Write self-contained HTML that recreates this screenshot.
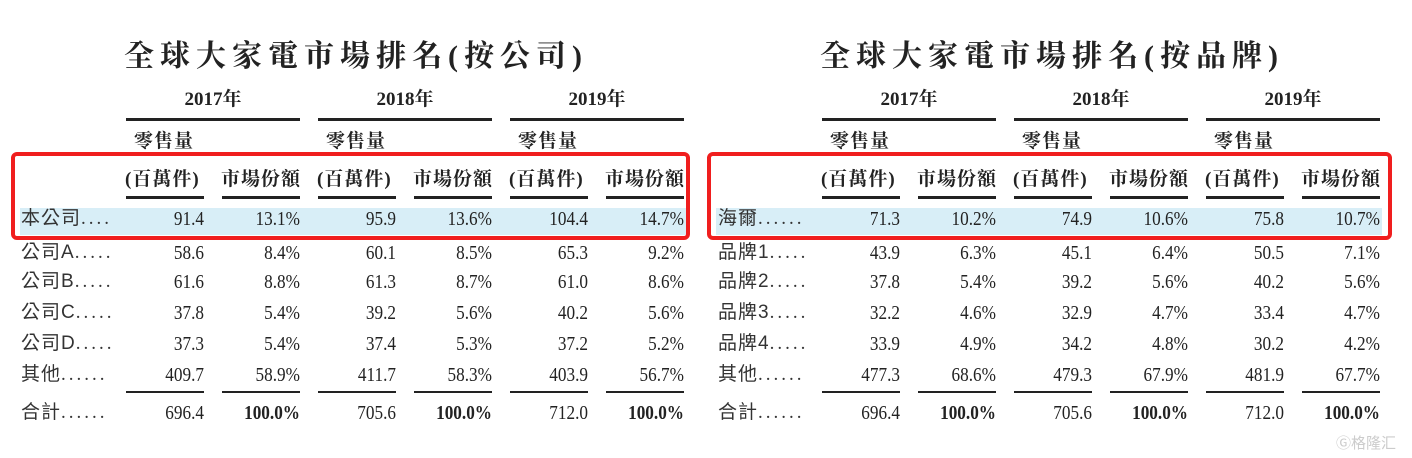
<!DOCTYPE html>
<html><head><meta charset="utf-8">
<style>
body{margin:0;width:1412px;height:458px;background:#fff;position:relative;overflow:hidden;color:#222;}
.a{position:absolute;white-space:nowrap;}
.t{font-family:"Liberation Serif","Noto Serif CJK TC","Noto Serif CJK SC",serif;font-weight:bold;font-size:30px;letter-spacing:6px;line-height:34px;}
.y{font-family:"Liberation Serif","Noto Serif CJK TC","Noto Serif CJK SC",serif;font-weight:bold;font-size:19px;width:174px;text-align:center;line-height:24px;}
.h{font-family:"Liberation Serif","Noto Serif CJK TC","Noto Serif CJK SC",serif;font-weight:bold;font-size:19px;letter-spacing:1px;line-height:24px;}
.ln{position:absolute;height:3px;background:#222;}
.ls{position:absolute;height:2px;background:#222;}
.n{font-family:"Liberation Serif",serif;font-size:20px;width:120px;text-align:right;line-height:24px;transform:scaleX(.86);transform-origin:right center;}
.b{font-weight:bold;}
.l{font-family:"Liberation Sans","Noto Sans CJK TC",sans-serif;font-size:19px;line-height:24px;color:#333;letter-spacing:1px;}
.l i{font-style:normal;font-family:"Liberation Serif",serif;letter-spacing:3px;}
.hl{position:absolute;background:#d8eef7;height:27px;}
.box{position:absolute;border:4px solid #f01e1e;border-radius:6px;}
</style></head><body>
<div class="hl" style="left:20px;top:208px;width:666px"></div>
<div class="hl" style="left:716px;top:208px;width:666px"></div>

<!-- LEFT -->
<div class="a t" style="left:124px;top:40px">全球大家電市場排名(按公司)</div>
<div class="a y" style="left:126px;top:88px">2017年</div>
<div class="a y" style="left:318px;top:88px">2018年</div>
<div class="a y" style="left:510px;top:88px">2019年</div>
<div class="ln" style="left:126px;top:118px;width:174px"></div>
<div class="ln" style="left:318px;top:118px;width:174px"></div>
<div class="ln" style="left:510px;top:118px;width:174px"></div>
<div class="a h" style="left:134px;top:130px">零售量</div>
<div class="a h" style="left:326px;top:130px">零售量</div>
<div class="a h" style="left:518px;top:130px">零售量</div>
<div class="a h" style="left:125px;top:168px">(百萬件)</div>
<div class="a h" style="left:221px;top:168px">市場份額</div>
<div class="a h" style="left:317px;top:168px">(百萬件)</div>
<div class="a h" style="left:413px;top:168px">市場份額</div>
<div class="a h" style="left:509px;top:168px">(百萬件)</div>
<div class="a h" style="left:605px;top:168px">市場份額</div>
<div class="ln" style="left:126px;top:196px;width:78px"></div>
<div class="ln" style="left:222px;top:196px;width:78px"></div>
<div class="ln" style="left:318px;top:196px;width:78px"></div>
<div class="ln" style="left:414px;top:196px;width:78px"></div>
<div class="ln" style="left:510px;top:196px;width:78px"></div>
<div class="ln" style="left:606px;top:196px;width:78px"></div>

<div class="a l" style="left:21px;top:207px">本公司<i>....</i></div>
<div class="a l" style="left:21px;top:241px">公司A<i>.....</i></div>
<div class="a l" style="left:21px;top:270px">公司B<i>.....</i></div>
<div class="a l" style="left:21px;top:301px">公司C<i>.....</i></div>
<div class="a l" style="left:21px;top:332px">公司D<i>.....</i></div>
<div class="a l" style="left:21px;top:363px">其他<i>......</i></div>
<div class="a l" style="left:21px;top:401px">合計<i>......</i></div>

<div class="a n" style="left:84px;top:207px">91.4</div><div class="a n" style="left:180px;top:207px">13.1%</div><div class="a n" style="left:276px;top:207px">95.9</div><div class="a n" style="left:372px;top:207px">13.6%</div><div class="a n" style="left:468px;top:207px">104.4</div><div class="a n" style="left:564px;top:207px">14.7%</div>
<div class="a n" style="left:84px;top:241px">58.6</div><div class="a n" style="left:180px;top:241px">8.4%</div><div class="a n" style="left:276px;top:241px">60.1</div><div class="a n" style="left:372px;top:241px">8.5%</div><div class="a n" style="left:468px;top:241px">65.3</div><div class="a n" style="left:564px;top:241px">9.2%</div>
<div class="a n" style="left:84px;top:270px">61.6</div><div class="a n" style="left:180px;top:270px">8.8%</div><div class="a n" style="left:276px;top:270px">61.3</div><div class="a n" style="left:372px;top:270px">8.7%</div><div class="a n" style="left:468px;top:270px">61.0</div><div class="a n" style="left:564px;top:270px">8.6%</div>
<div class="a n" style="left:84px;top:301px">37.8</div><div class="a n" style="left:180px;top:301px">5.4%</div><div class="a n" style="left:276px;top:301px">39.2</div><div class="a n" style="left:372px;top:301px">5.6%</div><div class="a n" style="left:468px;top:301px">40.2</div><div class="a n" style="left:564px;top:301px">5.6%</div>
<div class="a n" style="left:84px;top:332px">37.3</div><div class="a n" style="left:180px;top:332px">5.4%</div><div class="a n" style="left:276px;top:332px">37.4</div><div class="a n" style="left:372px;top:332px">5.3%</div><div class="a n" style="left:468px;top:332px">37.2</div><div class="a n" style="left:564px;top:332px">5.2%</div>
<div class="a n" style="left:84px;top:363px">409.7</div><div class="a n" style="left:180px;top:363px">58.9%</div><div class="a n" style="left:276px;top:363px">411.7</div><div class="a n" style="left:372px;top:363px">58.3%</div><div class="a n" style="left:468px;top:363px">403.9</div><div class="a n" style="left:564px;top:363px">56.7%</div>
<div class="ls" style="left:126px;top:391px;width:78px"></div><div class="ls" style="left:222px;top:391px;width:78px"></div><div class="ls" style="left:318px;top:391px;width:78px"></div><div class="ls" style="left:414px;top:391px;width:78px"></div><div class="ls" style="left:510px;top:391px;width:78px"></div><div class="ls" style="left:606px;top:391px;width:78px"></div>
<div class="a n" style="left:84px;top:401px">696.4</div><div class="a n b" style="left:180px;top:401px">100.0%</div><div class="a n" style="left:276px;top:401px">705.6</div><div class="a n b" style="left:372px;top:401px">100.0%</div><div class="a n" style="left:468px;top:401px">712.0</div><div class="a n b" style="left:564px;top:401px">100.0%</div>

<!-- RIGHT -->
<div class="a t" style="left:820px;top:40px">全球大家電市場排名(按品牌)</div>
<div class="a y" style="left:822px;top:88px">2017年</div>
<div class="a y" style="left:1014px;top:88px">2018年</div>
<div class="a y" style="left:1206px;top:88px">2019年</div>
<div class="ln" style="left:822px;top:118px;width:174px"></div>
<div class="ln" style="left:1014px;top:118px;width:174px"></div>
<div class="ln" style="left:1206px;top:118px;width:174px"></div>
<div class="a h" style="left:830px;top:130px">零售量</div>
<div class="a h" style="left:1022px;top:130px">零售量</div>
<div class="a h" style="left:1214px;top:130px">零售量</div>
<div class="a h" style="left:821px;top:168px">(百萬件)</div>
<div class="a h" style="left:917px;top:168px">市場份額</div>
<div class="a h" style="left:1013px;top:168px">(百萬件)</div>
<div class="a h" style="left:1109px;top:168px">市場份額</div>
<div class="a h" style="left:1205px;top:168px">(百萬件)</div>
<div class="a h" style="left:1301px;top:168px">市場份額</div>
<div class="ln" style="left:822px;top:196px;width:78px"></div>
<div class="ln" style="left:918px;top:196px;width:78px"></div>
<div class="ln" style="left:1014px;top:196px;width:78px"></div>
<div class="ln" style="left:1110px;top:196px;width:78px"></div>
<div class="ln" style="left:1206px;top:196px;width:78px"></div>
<div class="ln" style="left:1302px;top:196px;width:78px"></div>

<div class="a l" style="left:718px;top:207px">海爾<i>......</i></div>
<div class="a l" style="left:718px;top:241px">品牌1<i>.....</i></div>
<div class="a l" style="left:718px;top:270px">品牌2<i>.....</i></div>
<div class="a l" style="left:718px;top:301px">品牌3<i>.....</i></div>
<div class="a l" style="left:718px;top:332px">品牌4<i>.....</i></div>
<div class="a l" style="left:718px;top:363px">其他<i>......</i></div>
<div class="a l" style="left:718px;top:401px">合計<i>......</i></div>

<div class="a n" style="left:780px;top:207px">71.3</div><div class="a n" style="left:876px;top:207px">10.2%</div><div class="a n" style="left:972px;top:207px">74.9</div><div class="a n" style="left:1068px;top:207px">10.6%</div><div class="a n" style="left:1164px;top:207px">75.8</div><div class="a n" style="left:1260px;top:207px">10.7%</div>
<div class="a n" style="left:780px;top:241px">43.9</div><div class="a n" style="left:876px;top:241px">6.3%</div><div class="a n" style="left:972px;top:241px">45.1</div><div class="a n" style="left:1068px;top:241px">6.4%</div><div class="a n" style="left:1164px;top:241px">50.5</div><div class="a n" style="left:1260px;top:241px">7.1%</div>
<div class="a n" style="left:780px;top:270px">37.8</div><div class="a n" style="left:876px;top:270px">5.4%</div><div class="a n" style="left:972px;top:270px">39.2</div><div class="a n" style="left:1068px;top:270px">5.6%</div><div class="a n" style="left:1164px;top:270px">40.2</div><div class="a n" style="left:1260px;top:270px">5.6%</div>
<div class="a n" style="left:780px;top:301px">32.2</div><div class="a n" style="left:876px;top:301px">4.6%</div><div class="a n" style="left:972px;top:301px">32.9</div><div class="a n" style="left:1068px;top:301px">4.7%</div><div class="a n" style="left:1164px;top:301px">33.4</div><div class="a n" style="left:1260px;top:301px">4.7%</div>
<div class="a n" style="left:780px;top:332px">33.9</div><div class="a n" style="left:876px;top:332px">4.9%</div><div class="a n" style="left:972px;top:332px">34.2</div><div class="a n" style="left:1068px;top:332px">4.8%</div><div class="a n" style="left:1164px;top:332px">30.2</div><div class="a n" style="left:1260px;top:332px">4.2%</div>
<div class="a n" style="left:780px;top:363px">477.3</div><div class="a n" style="left:876px;top:363px">68.6%</div><div class="a n" style="left:972px;top:363px">479.3</div><div class="a n" style="left:1068px;top:363px">67.9%</div><div class="a n" style="left:1164px;top:363px">481.9</div><div class="a n" style="left:1260px;top:363px">67.7%</div>
<div class="ls" style="left:822px;top:391px;width:78px"></div><div class="ls" style="left:918px;top:391px;width:78px"></div><div class="ls" style="left:1014px;top:391px;width:78px"></div><div class="ls" style="left:1110px;top:391px;width:78px"></div><div class="ls" style="left:1206px;top:391px;width:78px"></div><div class="ls" style="left:1302px;top:391px;width:78px"></div>
<div class="a n" style="left:780px;top:401px">696.4</div><div class="a n b" style="left:876px;top:401px">100.0%</div><div class="a n" style="left:972px;top:401px">705.6</div><div class="a n b" style="left:1068px;top:401px">100.0%</div><div class="a n" style="left:1164px;top:401px">712.0</div><div class="a n b" style="left:1260px;top:401px">100.0%</div>

<div class="box" style="left:11px;top:152px;width:671px;height:80px"></div>
<div class="box" style="left:707px;top:152px;width:677px;height:80px"></div>

<div class="a" style="left:1336px;top:432px;font-family:'Liberation Sans','Noto Sans CJK SC',sans-serif;font-size:15px;color:#ccc;">Ⓖ格隆汇</div>
</body></html>
